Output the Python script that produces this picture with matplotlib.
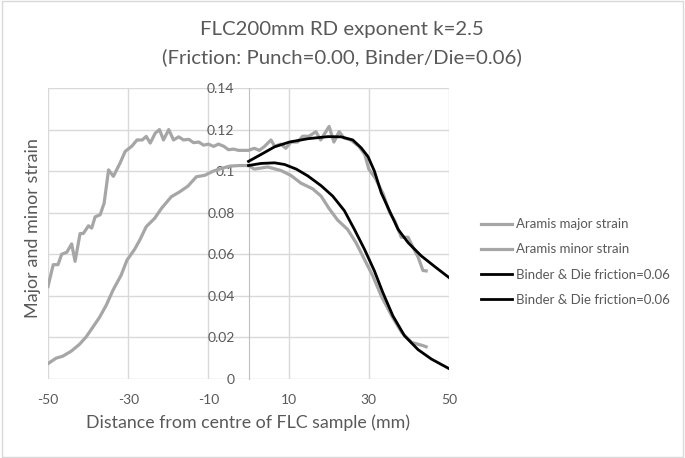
import matplotlib
matplotlib.use('Agg')
import matplotlib.pyplot as plt
from matplotlib.patches import Rectangle

plt.rcParams['font.family'] = ['Lato', 'DejaVu Sans']

major_x = [-50, -48.7, -47.5, -46.6, -45.3, -44.1, -43.25, -42, -41.2, -39.9, -39.1, -38.25, -37, -36,
           -34.9, -33.7, -32, -30.75, -29.1, -27.8, -26.5, -25.5, -24.5, -23.25, -22.2, -21.2, -19.9,
           -18.7, -17.4, -16.2, -14.9, -13.7, -12.4, -11.2, -10, -8.7, -7.5, -6.2, -5, -3.7, -2.5, -1.2,
           0, 1.45, 2.7, 4, 5.6, 6.5, 8.1, 9.3, 10.6, 12.25, 13.5, 15.1, 16.8, 18, 20.1, 21.3, 22.6,
           23.8, 25.5, 27.5, 29, 30, 31.5, 33.6, 35.2, 36.5, 38.1, 39.8, 41, 42.3, 43.5, 44.3]
major_y = [0.0445, 0.055, 0.055, 0.060, 0.061, 0.065, 0.0566, 0.070, 0.070, 0.0737, 0.0726, 0.078,
           0.079, 0.0846, 0.1006, 0.0975, 0.104, 0.1095, 0.112, 0.115, 0.115, 0.1167, 0.1135, 0.1183,
           0.120, 0.115, 0.120, 0.115, 0.1165, 0.115, 0.1153, 0.1137, 0.114, 0.1125, 0.113, 0.1119,
           0.113, 0.112, 0.1103, 0.1106, 0.110, 0.110,
           0.110, 0.111, 0.110, 0.1119, 0.115, 0.112, 0.113, 0.111, 0.114, 0.114, 0.1168, 0.1168,
           0.119, 0.115, 0.1215, 0.114, 0.119, 0.116, 0.115, 0.112, 0.108, 0.101, 0.097, 0.089,
           0.080, 0.076, 0.0682, 0.0682, 0.0634, 0.0586, 0.0522, 0.052]

minor_x = [-50, -48, -46.3, -44.2, -42.2, -40.5, -38.8, -37.2, -35.5, -33.8, -31.75, -30.3, -28.4,
           -27.1, -25.5, -23.4, -21.7, -19.25, -17.2, -15.1, -13, -10.9, -8.8, -6.75, -4.7, -2.2,
           0, 1.45, 4.8, 8.1, 10.6, 13.1, 16, 18.1, 20.1, 22.2, 24.7, 26.8, 28.9, 31, 33.1, 35.7,
           38.2, 40.7, 43.6, 44.3]
minor_y = [0.0074, 0.010, 0.011, 0.0134, 0.0166, 0.0202, 0.025, 0.0295, 0.0354, 0.0427, 0.050,
           0.0572, 0.0624, 0.0669, 0.0733, 0.0773, 0.0821, 0.0877, 0.090, 0.0928, 0.0973, 0.098,
           0.100, 0.1013, 0.1024, 0.1027,
           0.1027, 0.101, 0.102, 0.1003, 0.0979, 0.0942, 0.0915, 0.088, 0.082, 0.0765, 0.072,
           0.0656, 0.0576, 0.0496, 0.040, 0.0304, 0.0224, 0.0176, 0.016, 0.0155]

# simulation, binder & die friction 0.06
sim_major_x = [0, 3.1, 6.5, 10.2, 14.8, 19.8, 23.1, 26, 28.1, 29.8, 31.4, 33.1, 34.8, 37.3, 39.8,
               43.1, 46.5, 50]
sim_major_y = [0.1047, 0.108, 0.1117, 0.114, 0.1156, 0.1166, 0.1165, 0.115, 0.1112, 0.107, 0.100,
               0.0896, 0.0824, 0.072, 0.0656, 0.0592, 0.054, 0.0488]
sim_minor_x = [0, 3.1, 6.5, 9, 11.9, 14.8, 18.1, 21, 23.9, 26.4, 28.9, 31.4, 33.5, 36, 38.9, 42.3,
               45.6, 50]
sim_minor_y = [0.1027, 0.1037, 0.104, 0.1032, 0.101, 0.0977, 0.093, 0.088, 0.081, 0.072, 0.0625,
               0.052, 0.0416, 0.0304, 0.0208, 0.0141, 0.0096, 0.005]

xticks = [-50, -30, -10, 10, 30, 50]
yticks = [0, 0.02, 0.04, 0.06, 0.08, 0.1, 0.12, 0.14]
ylabels = ['0', '0.02', '0.04', '0.06', '0.08', '0.1', '0.12', '0.14']

txt = '#595959'
grey = '#a6a6a6'

fig = plt.figure(figsize=(6.85, 4.58), dpi=100)
fig.patches.append(Rectangle((0.003, 0.003), 0.994, 0.994, transform=fig.transFigure,
                             fill=False, edgecolor='#d9d9d9', linewidth=1))
ax = fig.add_axes([48/685, 1-379/458, (449-48)/685, (379-88)/458])

ax.plot(major_x, major_y, color=grey, lw=2.3, label='Aramis major strain', zorder=3)
ax.plot(minor_x, minor_y, color=grey, lw=2.3, label='Aramis minor strain', zorder=3)
ax.plot(sim_major_x, sim_major_y, color='black', lw=2.0, label='Binder & Die friction=0.06', zorder=4)
ax.plot(sim_minor_x, sim_minor_y, color='black', lw=2.0, label='Binder & Die friction=0.06', zorder=4)

ax.set_xlim(-50, 50)
ax.set_ylim(0, 0.14)
ax.set_xticks(xticks)
ax.set_xticklabels([str(t) for t in xticks])
ax.set_yticks(yticks)
ax.set_yticklabels(ylabels)
ax.grid(True, color='#d9d9d9', lw=1)
ax.set_axisbelow(True)
for s in ['top', 'right', 'bottom']:
    ax.spines[s].set_visible(False)
ax.spines['left'].set_position(('data', 0))
ax.spines['left'].set_color('#bfbfbf')
ax.tick_params(axis='both', length=0, labelsize=10, labelcolor=txt)
ax.tick_params(axis='x', pad=11)
ax.tick_params(axis='y', pad=10)

fig.text(33/685, 1-228/458, 'Major and minor strain', rotation=90, ha='center', va='center',
         fontsize=13, color=txt)
fig.text(248/685, 1-423/458, 'Distance from centre of FLC sample (mm)', ha='center', va='center',
         fontsize=12.8, color=txt)
fig.text(342/685, 1-29/458, 'FLC200mm RD exponent k=2.5', ha='center', va='center',
         fontsize=14.7, color=txt)
fig.text(342/685, 1-57/458, '(Friction: Punch=0.00, Binder/Die=0.06)', ha='center', va='center',
         fontsize=14.7, color=txt)

fig.legend(loc='upper left', bbox_to_anchor=(476/685, 1-213/458), frameon=False,
           fontsize=9.5, labelcolor=txt, handlelength=2.3, handletextpad=0.3, labelspacing=1.0,
           borderaxespad=0)

fig.savefig('out.png', dpi=100)
